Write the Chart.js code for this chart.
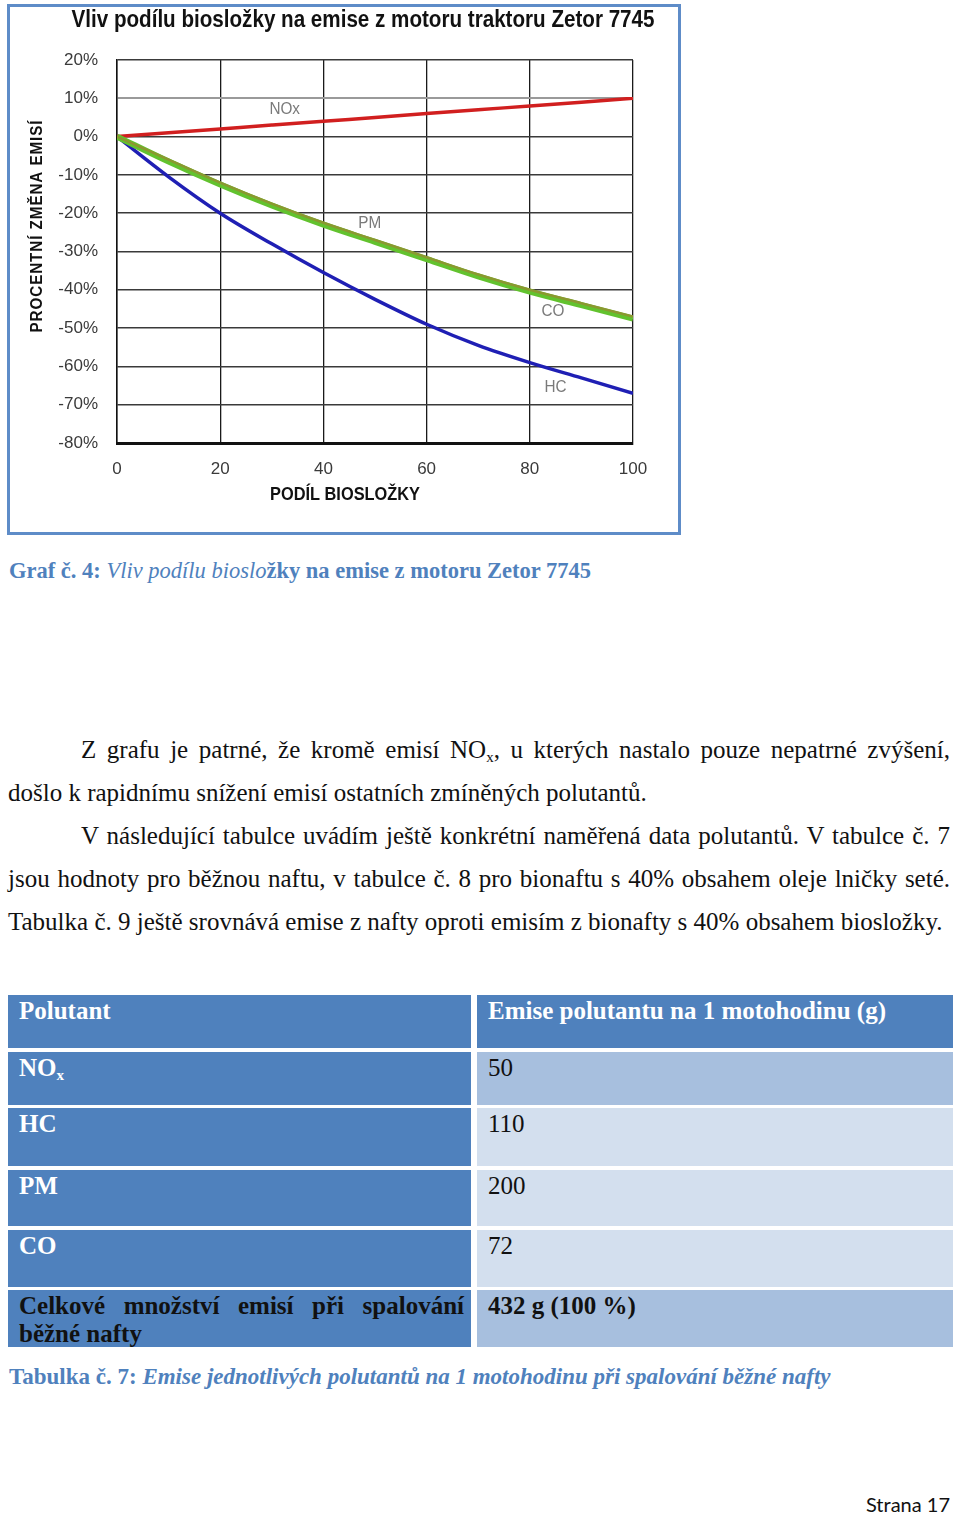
<!DOCTYPE html>
<html>
<head>
<meta charset="utf-8">
<script src="https://cdn.jsdelivr.net/npm/chart.js@4.4.1/dist/chart.umd.min.js"></script>
<style>
  body { margin: 0; background: #fff; width: 960px; height: 1515px; position: relative; overflow: hidden; font-family: "Liberation Serif", "Times New Roman", serif; }
  #chartBox { position: absolute; left: 7px; top: 4px; width: 674px; height: 531px; border: 3px solid #5e8cc8; box-sizing: border-box; background: #fff; }
  .cap { position: absolute; left: 9px; color: #4f81bd; font-weight: bold; white-space: nowrap; }
  .cap i { font-weight: normal; }
  #text { position: absolute; left: 8px; top: 728px; width: 942px; font-size: 25px; line-height: 43px; color: #111; }
  #text p { margin: 0; text-align: justify; text-indent: 73px; }
  sub { font-size: 15px; vertical-align: -4px; line-height: 0; }
  .cell { position: absolute; box-sizing: border-box; font-size: 25px; line-height: 28px; font-weight: bold; padding: 2px 10px 0 11px; }
  .l { left: 8px; width: 463px; background: #4f81bd; color: #fff; }
  .r { left: 477px; width: 476px; color: #111; font-weight: normal; }
  .mid { background: #a7bfde; }
  .lt { background: #d3dfee; }
  #strana { position: absolute; right: 10px; top: 1492px; font-family: Lato, "Open Sans", sans-serif; font-size: 20px; color: #111; }
</style>
</head>
<body>
<div id="chartBox"><canvas id="myChart" width="668" height="525"></canvas></div>

<div class="cap" style="top:558px;font-size:22.5px;">Graf č. 4: <i>Vliv podílu bioslo</i>žky na emise z motoru Zetor 7745</div>

<div id="text">
  <p>Z grafu je patrné, že kromě emisí NO<sub>x</sub>, u kterých nastalo pouze nepatrné zvýšení, došlo k rapidnímu snížení emisí ostatních zmíněných polutantů.</p>
  <p>V následující tabulce uvádím ještě konkrétní naměřená data polutantů. V tabulce č. 7 jsou hodnoty pro běžnou naftu, v tabulce č. 8 pro bionaftu s 40% obsahem oleje lničky seté. Tabulka č. 9 ještě srovnává emise z nafty oproti emisím z bionafty s 40% obsahem biosložky.</p>
</div>

<div class="cell l" style="top:995px;height:53px;">Polutant</div>
<div class="cell r" style="top:995px;height:53px;background:#4f81bd;color:#fff;font-weight:bold;">Emise polutantu na 1 motohodinu (g)</div>
<div class="cell l" style="top:1052px;height:53px;">NO<sub>x</sub></div>
<div class="cell r mid" style="top:1052px;height:53px;">50</div>
<div class="cell l" style="top:1108px;height:58px;">HC</div>
<div class="cell r lt" style="top:1108px;height:58px;">110</div>
<div class="cell l" style="top:1170px;height:56px;">PM</div>
<div class="cell r lt" style="top:1170px;height:56px;">200</div>
<div class="cell l" style="top:1230px;height:57px;">CO</div>
<div class="cell r lt" style="top:1230px;height:57px;">72</div>
<div class="cell l" style="top:1290px;height:57px;color:#111;text-align:justify;text-align-last:left;padding-right:7px;">Celkové množství emisí při spalování běžné nafty</div>
<div class="cell r mid" style="top:1290px;height:57px;font-weight:bold;">432 g (100 %)</div>

<div class="cap" style="top:1364px;font-size:23px;">Tabulka č. 7: <i style="font-weight:bold">Emise jednotlivých polutantů na 1 motohodinu při spalování běžné nafty</i></div>

<div id="strana">Strana 17</div>

<script>
// podíl biosložky (%)
const podil = [0, 10, 20, 30, 40, 50, 60, 70, 80, 90, 100];
// procentní změna emisí (%)
const nox = [0, 1, 2, 3, 4, 5, 6, 7, 8, 9, 10];
const hc = [0, -10.5, -20, -28, -35.5, -42.5, -49, -54.5, -59, -63, -67];
const pm = [0, -6, -12, -17.5, -22.5, -27, -31.5, -36, -40, -43.5, -47];
const co = [0, -6.5, -12.5, -18, -23, -27.5, -32, -36.5, -40.5, -44, -47.5];

const xTicks = [0, 20, 40, 60, 80, 100];
const yMin = -80, yMax = 20;

// popisky krivek v grafu [text, podil, zmena]
const labels = [
  ['NOx', 32.5, 7],
  ['PM', 49, -22.7],
  ['CO', 84.5, -45.7],
  ['HC', 85, -65.5]
];

const sans = '"Liberation Sans", Arial, sans-serif';

function pts(arr) {
  return podil.map((x, i) => ({ x: x, y: arr[i] }));
}

// zuzeny text (Arial Narrow neni k dispozici)
function narrowText(ctx, txt, x, y, w) {
  const m = ctx.measureText(txt).width;
  ctx.save();
  ctx.translate(x, y);
  ctx.scale(w / m, 1);
  ctx.fillText(txt, 0, 0);
  ctx.restore();
}

const textPlugin = {
  id: 'texty',
  afterDraw(chart) {
    const ctx = chart.ctx;
    const xs = chart.scales.x, ys = chart.scales.y;
    ctx.save();
    ctx.textAlign = 'center';
    ctx.textBaseline = 'middle';
    ctx.fillStyle = '#111';
    ctx.font = 'bold 23px ' + sans;
    narrowText(ctx, 'Vliv podílu biosložky na emise z motoru traktoru Zetor 7745', 353, 14, 583);
    ctx.font = 'bold 18px ' + sans;
    narrowText(ctx, 'PODÍL BIOSLOŽKY', 335, 488, 150);
    ctx.translate(28, 219);
    ctx.rotate(-Math.PI / 2);
    ctx.font = 'bold 16px ' + sans;
    ctx.letterSpacing = '1px';
    narrowText(ctx, 'PROCENTNÍ ZMĚNA EMISÍ', 0, 0, 213);
    ctx.restore();

    ctx.save();
    ctx.textAlign = 'center';
    ctx.textBaseline = 'middle';
    ctx.fillStyle = '#7a7a7a';
    ctx.font = '17px ' + sans;
    labels.forEach(l => {
      narrowText(ctx, l[0], xs.getPixelForValue(l[1]), ys.getPixelForValue(l[2]), ctx.measureText(l[0]).width * 0.9);
    });
    ctx.restore();
  }
};

const config = {
  type: 'line',
  data: {
    datasets: [
      { label: 'PM', data: pts(pm), borderColor: '#8b9830', borderWidth: 2.5 },
      { label: 'CO', data: pts(co), borderColor: '#62c22e', borderWidth: 6 },
      { label: 'NOx', data: pts(nox), borderColor: '#d11f1f', borderWidth: 3.5 },
      { label: 'HC', data: pts(hc), borderColor: '#1f1fb4', borderWidth: 3.5 }
    ]
  },
  options: {
    responsive: false,
    animation: false,
    devicePixelRatio: 1,
    layout: { padding: { top: 53, right: 45, left: 0, bottom: 0 } },
    elements: {
      point: { radius: 0 },
      line: { cubicInterpolationMode: 'monotone', fill: false }
    },
    plugins: {
      legend: { display: false },
      tooltip: { enabled: false },
      title: { display: false }
    },
    scales: {
      x: {
        type: 'linear',
        min: 0,
        max: 100,
        afterFit(s) { s.height = 89; },
        afterBuildTicks(s) { s.ticks = xTicks.map(v => ({ value: v })); },
        grid: { color: '#1a1a1a', lineWidth: 1.3, drawTicks: false },
        border: { color: '#111', width: 3 },
        ticks: { padding: 16, color: '#3a3a3a', font: { family: sans, size: 17 } }
      },
      y: {
        min: yMin,
        max: yMax,
        afterFit(s) { s.width = 107; },
        grid: {
          color: c => c.tick && c.tick.value === 10 ? '#9a9a9a' : '#3a3a3a',
          lineWidth: c => c.tick && c.tick.value === 10 ? 2 : 1.5,
          drawTicks: false
        },
        border: { color: '#111', width: 1.5 },
        ticks: {
          stepSize: 10,
          padding: 19,
          color: '#3a3a3a',
          font: { family: sans, size: 17 },
          callback: v => v + '%'
        }
      }
    }
  },
  plugins: [textPlugin]
};

let myChart = new Chart(document.querySelector('#myChart'), config);
</script>
</body>
</html>
